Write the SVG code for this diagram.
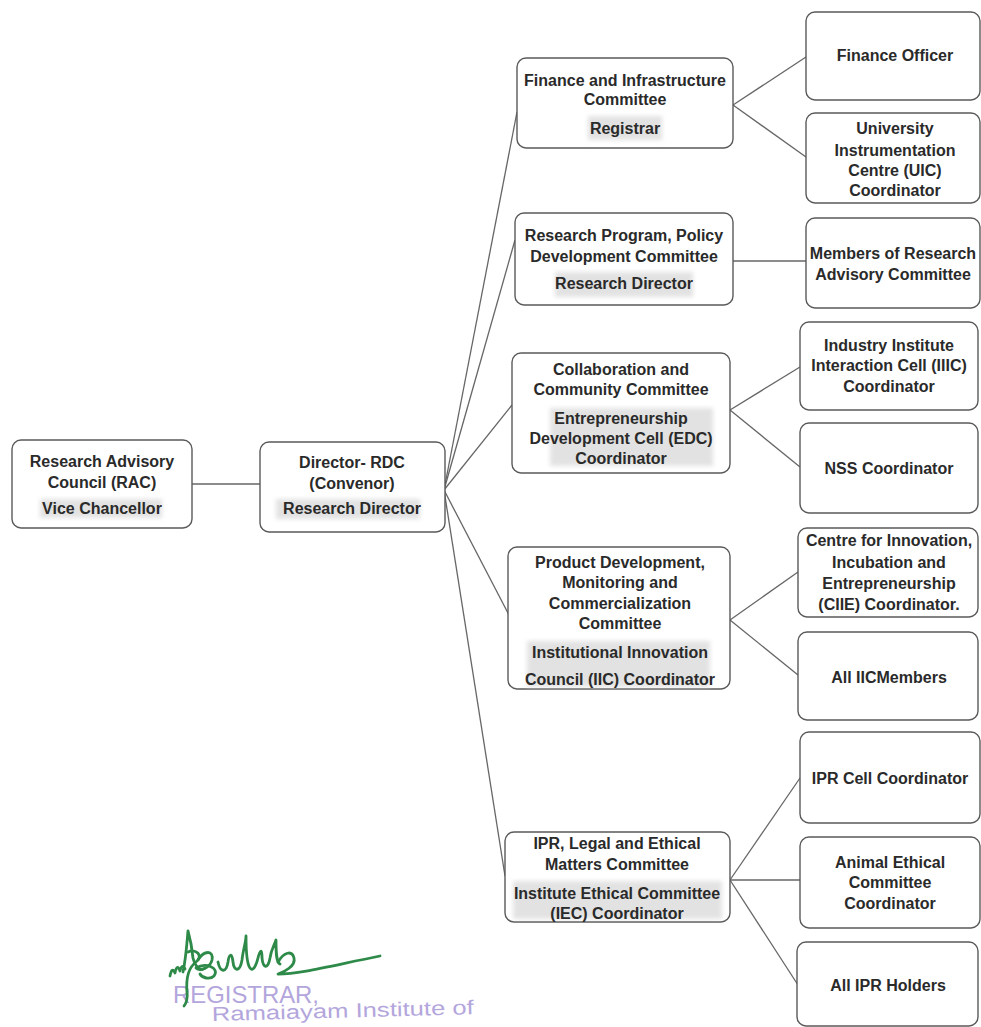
<svg xmlns="http://www.w3.org/2000/svg" width="981" height="1027" viewBox="0 0 981 1027">
<style>
.bg{fill:#ffffff}
.box{fill:#ffffff;stroke:#5a5a5a;stroke-width:1.4}
.t{font-family:"Liberation Sans",Arial,sans-serif;font-weight:bold;font-size:16px;fill:#2a2a2a;text-anchor:middle}
.hl{fill:#d9d9d9;opacity:0.75;filter:url(#soft)}
.conn{stroke:#666666;stroke-width:1.3;fill:none}
.sig{stroke:#2e8a48;stroke-width:2.8;fill:none;stroke-linecap:round;stroke-linejoin:round}
.stamp{font-family:"Liberation Sans",Arial,sans-serif;fill:#b3a6dc}
</style>
<defs>
<filter id="soft" x="-10%" y="-30%" width="120%" height="160%"><feGaussianBlur stdDeviation="2"/></filter>
</defs>
<rect class="bg" x="0" y="0" width="981" height="1027"/>

<g id="connectors">
<line class="conn" x1="192" y1="484" x2="260" y2="484"/>
<line class="conn" x1="444" y1="490" x2="517" y2="112"/>
<line class="conn" x1="444" y1="490" x2="515" y2="240"/>
<line class="conn" x1="444" y1="490" x2="512" y2="405"/>
<line class="conn" x1="444" y1="490" x2="509" y2="615"/>
<line class="conn" x1="444" y1="490" x2="505" y2="876"/>
<line class="conn" x1="733" y1="105" x2="806" y2="57"/>
<line class="conn" x1="733" y1="105" x2="806" y2="157"/>
<line class="conn" x1="733" y1="261" x2="806" y2="261"/>
<line class="conn" x1="730" y1="410" x2="800" y2="367"/>
<line class="conn" x1="730" y1="410" x2="800" y2="467"/>
<line class="conn" x1="730" y1="620" x2="798" y2="572"/>
<line class="conn" x1="730" y1="620" x2="798" y2="675"/>
<line class="conn" x1="730" y1="880" x2="800" y2="778"/>
<line class="conn" x1="730" y1="880" x2="800" y2="880"/>
<line class="conn" x1="730" y1="880" x2="798" y2="985"/>
</g>

<g id="rac">
<rect class="box" x="12" y="440" width="180" height="88" rx="9"/>
<rect class="hl" x="40" y="499" width="122" height="19"/>
<text class="t" x="102" y="467">Research Advisory</text>
<text class="t" x="102" y="488">Council (RAC)</text>
<text class="t" x="102" y="514">Vice Chancellor</text>
</g>

<g id="director">
<rect class="box" x="260" y="442" width="185" height="90" rx="9"/>
<rect class="hl" x="276" y="499" width="144" height="20"/>
<text class="t" x="352" y="468">Director- RDC</text>
<text class="t" x="352" y="489">(Convenor)</text>
<text class="t" x="352" y="514">Research Director</text>
</g>

<g id="finance">
<rect class="box" x="517" y="58" width="216" height="90" rx="9"/>
<rect class="hl" x="588" y="116" width="74" height="24"/>
<text class="t" x="625" y="86">Finance and Infrastructure</text>
<text class="t" x="625" y="105">Committee</text>
<text class="t" x="625" y="134">Registrar</text>
</g>

<g id="finance-officer">
<rect class="box" x="806" y="12" width="174" height="88" rx="9"/>
<text class="t" x="895" y="61">Finance Officer</text>
</g>

<g id="uic">
<rect class="box" x="806" y="113" width="174" height="90" rx="9"/>
<text class="t" x="895" y="134">University</text>
<text class="t" x="895" y="156">Instrumentation</text>
<text class="t" x="895" y="176">Centre (UIC)</text>
<text class="t" x="895" y="196">Coordinator</text>
</g>

<g id="research-program">
<rect class="box" x="515" y="213" width="218" height="92" rx="9"/>
<rect class="hl" x="555" y="272" width="138" height="25"/>
<text class="t" x="624" y="241">Research Program, Policy</text>
<text class="t" x="624" y="262">Development Committee</text>
<text class="t" x="624" y="289">Research Director</text>
</g>

<g id="members-rac">
<rect class="box" x="806" y="218" width="174" height="90" rx="9"/>
<text class="t" x="893" y="259">Members of Research</text>
<text class="t" x="893" y="280">Advisory Committee</text>
</g>

<g id="collaboration">
<rect class="box" x="512" y="353" width="218" height="120" rx="9"/>
<rect class="hl" x="550" y="408" width="163" height="58"/>
<text class="t" x="621" y="375">Collaboration and</text>
<text class="t" x="621" y="395">Community Committee</text>
<text class="t" x="621" y="424">Entrepreneurship</text>
<text class="t" x="621" y="444">Development Cell (EDC)</text>
<text class="t" x="621" y="464">Coordinator</text>
</g>

<g id="iiic">
<rect class="box" x="800" y="322" width="178" height="88" rx="9"/>
<text class="t" x="889" y="351">Industry Institute</text>
<text class="t" x="889" y="371">Interaction Cell (IIIC)</text>
<text class="t" x="889" y="392">Coordinator</text>
</g>

<g id="nss">
<rect class="box" x="800" y="423" width="178" height="90" rx="9"/>
<text class="t" x="889" y="474">NSS Coordinator</text>
</g>

<g id="product">
<rect class="box" x="508" y="547" width="222" height="142" rx="9"/>
<rect class="hl" x="527" y="641" width="183" height="46"/>
<text class="t" x="620" y="568">Product Development,</text>
<text class="t" x="620" y="588">Monitoring and</text>
<text class="t" x="620" y="609">Commercialization</text>
<text class="t" x="620" y="629">Committee</text>
<text class="t" x="620" y="658">Institutional Innovation</text>
<text class="t" x="620" y="685">Council (IIC) Coordinator</text>
</g>

<g id="ciie">
<rect class="box" x="798" y="528" width="180" height="89" rx="9"/>
<text class="t" x="889" y="546">Centre for Innovation,</text>
<text class="t" x="889" y="568">Incubation and</text>
<text class="t" x="889" y="589">Entrepreneurship</text>
<text class="t" x="889" y="610">(CIIE) Coordinator.</text>
</g>

<g id="all-iic">
<rect class="box" x="798" y="632" width="180" height="88" rx="9"/>
<text class="t" x="889" y="683">All IICMembers</text>
</g>

<g id="ipr-legal">
<rect class="box" x="505" y="832" width="225" height="90" rx="9"/>
<rect class="hl" x="513" y="881" width="209" height="38"/>
<text class="t" x="617" y="849">IPR, Legal and Ethical</text>
<text class="t" x="617" y="870">Matters Committee</text>
<text class="t" x="617" y="899">Institute Ethical Committee</text>
<text class="t" x="617" y="919">(IEC) Coordinator</text>
</g>

<g id="ipr-cell">
<rect class="box" x="800" y="732" width="180" height="91" rx="9"/>
<text class="t" x="890" y="784">IPR Cell Coordinator</text>
</g>

<g id="animal-ethical">
<rect class="box" x="800" y="837" width="180" height="91" rx="9"/>
<text class="t" x="890" y="868">Animal Ethical</text>
<text class="t" x="890" y="888">Committee</text>
<text class="t" x="890" y="909">Coordinator</text>
</g>

<g id="ipr-holders">
<rect class="box" x="797" y="942" width="181" height="84" rx="9"/>
<text class="t" x="888" y="991">All IPR Holders</text>
</g>

<g id="signature">
<text class="stamp" x="173" y="1003" font-size="24" textLength="146" lengthAdjust="spacingAndGlyphs">REGISTRAR,</text>
<text class="stamp" x="212" y="1021" font-size="20" transform="rotate(-1.5 212 1021)" textLength="262" lengthAdjust="spacingAndGlyphs">Ramaiayam Institute of</text>
<path class="sig" d="M170,976 q2,-10 5,-3 q2,-10 5,-2 q2,-8 5,-2"/>
<path class="sig" d="M183,972 C186,958 187,942 188,931 C190,938 192,948 193,958 C195,966 200,972 205,968"/>
<path class="sig" d="M188,952 C196,948 204,956 196,962 C188,968 186,980 187,992 C188,998 186,1004 184,1006"/>
<path class="sig" d="M198,960 C204,950 214,950 212,960 C210,968 200,972 196,968 C206,962 220,968 214,976 C210,980 202,978 200,974"/>
<path class="sig" d="M218,962 C220,972 226,974 228,962 C229,954 232,952 233,962 C234,972 240,972 242,960 C243,950 246,942 246,936 C246,948 247,964 250,968 C253,972 256,966 258,958 C260,950 262,948 262,958 C263,968 268,970 270,958 C271,950 274,946 276,940 C276,952 276,962 280,964"/>
<path class="sig" d="M278,962 C284,952 292,950 294,958 C296,966 284,972 278,974 C300,974 330,966 380,956"/>
</g>
</svg>
